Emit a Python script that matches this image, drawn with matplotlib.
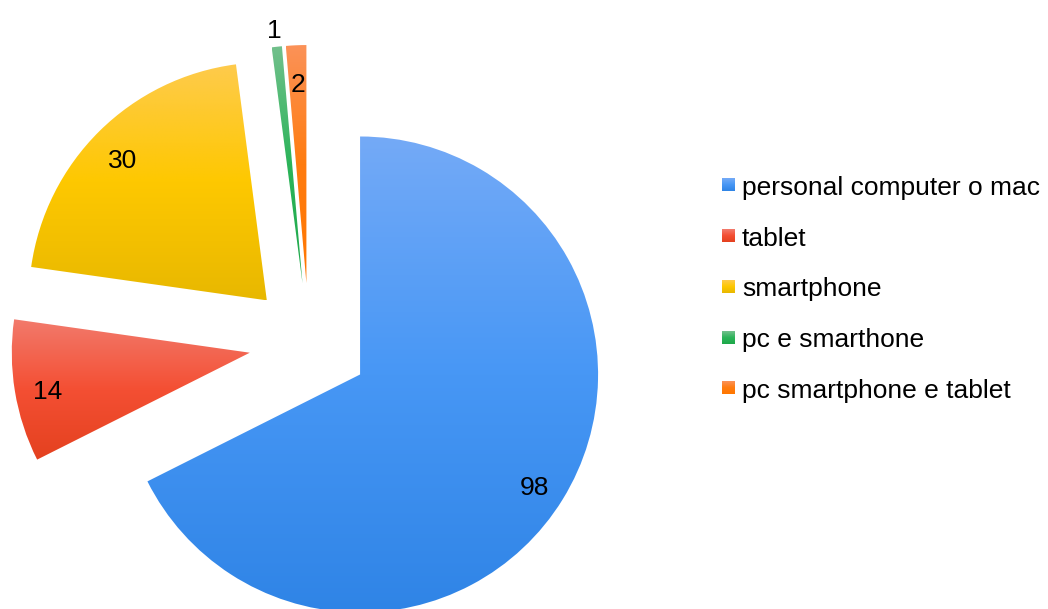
import numpy as np
import matplotlib.pyplot as plt
from matplotlib.colors import to_rgb

plt.rcParams['font.family'] = ['Liberation Sans', 'DejaVu Sans']

labels = ["personal computer o mac", "tablet", "smartphone", "pc e smarthone", "pc smartphone e tablet"]
values = [98, 14, 30, 1, 2]
top_colors = ["#74aaf7", "#f27a6c", "#fecb4c", "#72c08c", "#fb9258"]
mid_colors = ["#4797f5", "#f44f33", "#fec800", "#2cb45a", "#ff7c10"]
bottom_colors = ["#2f84e6", "#e4411f", "#e8b800", "#1ea84a", "#ff7700"]


def gradient(c_top, c_mid, c_bot, n=256):
    t = np.linspace(0, 1, n)
    cols = np.array([to_rgb(c_top), to_rgb(c_mid), to_rgb(c_bot)])
    out = np.stack([np.interp(t, [0, 0.5, 1], cols[:, k]) for k in range(3)], axis=1)
    return out[:, None, :]


fig = plt.figure(figsize=(10.48, 6.09), dpi=100)
ax = fig.add_axes([0, 0, 1, 1])

R = 238
cx, cy = 309, 266
wedges, _ = ax.pie(values, startangle=90, counterclock=False, radius=R,
                   center=(cx, cy), explode=[60] * len(values), frame=True,
                   wedgeprops=dict(linewidth=0))

total = sum(values)
for w, v, ct, cm, cb in zip(wedges, values, top_colors, mid_colors, bottom_colors):
    w.set_facecolor("none")
    verts = w.get_path().vertices
    x0, y0 = verts.min(axis=0)
    x1, y1 = verts.max(axis=0)
    im = ax.imshow(gradient(ct, cm, cb), extent=(x0, x1, y0, y1), origin="upper",
                   aspect="auto", interpolation="bilinear", zorder=1)
    im.set_clip_path(w)
    # value label
    th = np.radians((w.theta1 + w.theta2) / 2)
    d = 1.09 if v / total < 0.01 else 0.86
    wx, wy = w.center
    ax.text(wx + d * R * np.cos(th), wy + d * R * np.sin(th) - 6, str(v),
            ha="center", va="center", fontsize=19, color="black", zorder=3)

# legend
lx, ly, step, sq = 722, 421, 50.7, 13
for i, (lab, ct, cm, cb) in enumerate(zip(labels, top_colors, mid_colors, bottom_colors)):
    yc = ly - i * step
    ax.imshow(gradient(ct, cm, cb, 32), extent=(lx, lx + sq, yc - sq / 2 + 3, yc + sq / 2 + 3),
              origin="upper", aspect="auto", interpolation="bilinear", zorder=1)
    ax.text(lx + sq + 7, yc, lab, ha="left", va="center", fontsize=19, color="black")

ax.set_xlim(0, 1048)
ax.set_ylim(0, 609)
ax.set_aspect("equal")
ax.axis("off")

fig.savefig("out.png", dpi=100)
